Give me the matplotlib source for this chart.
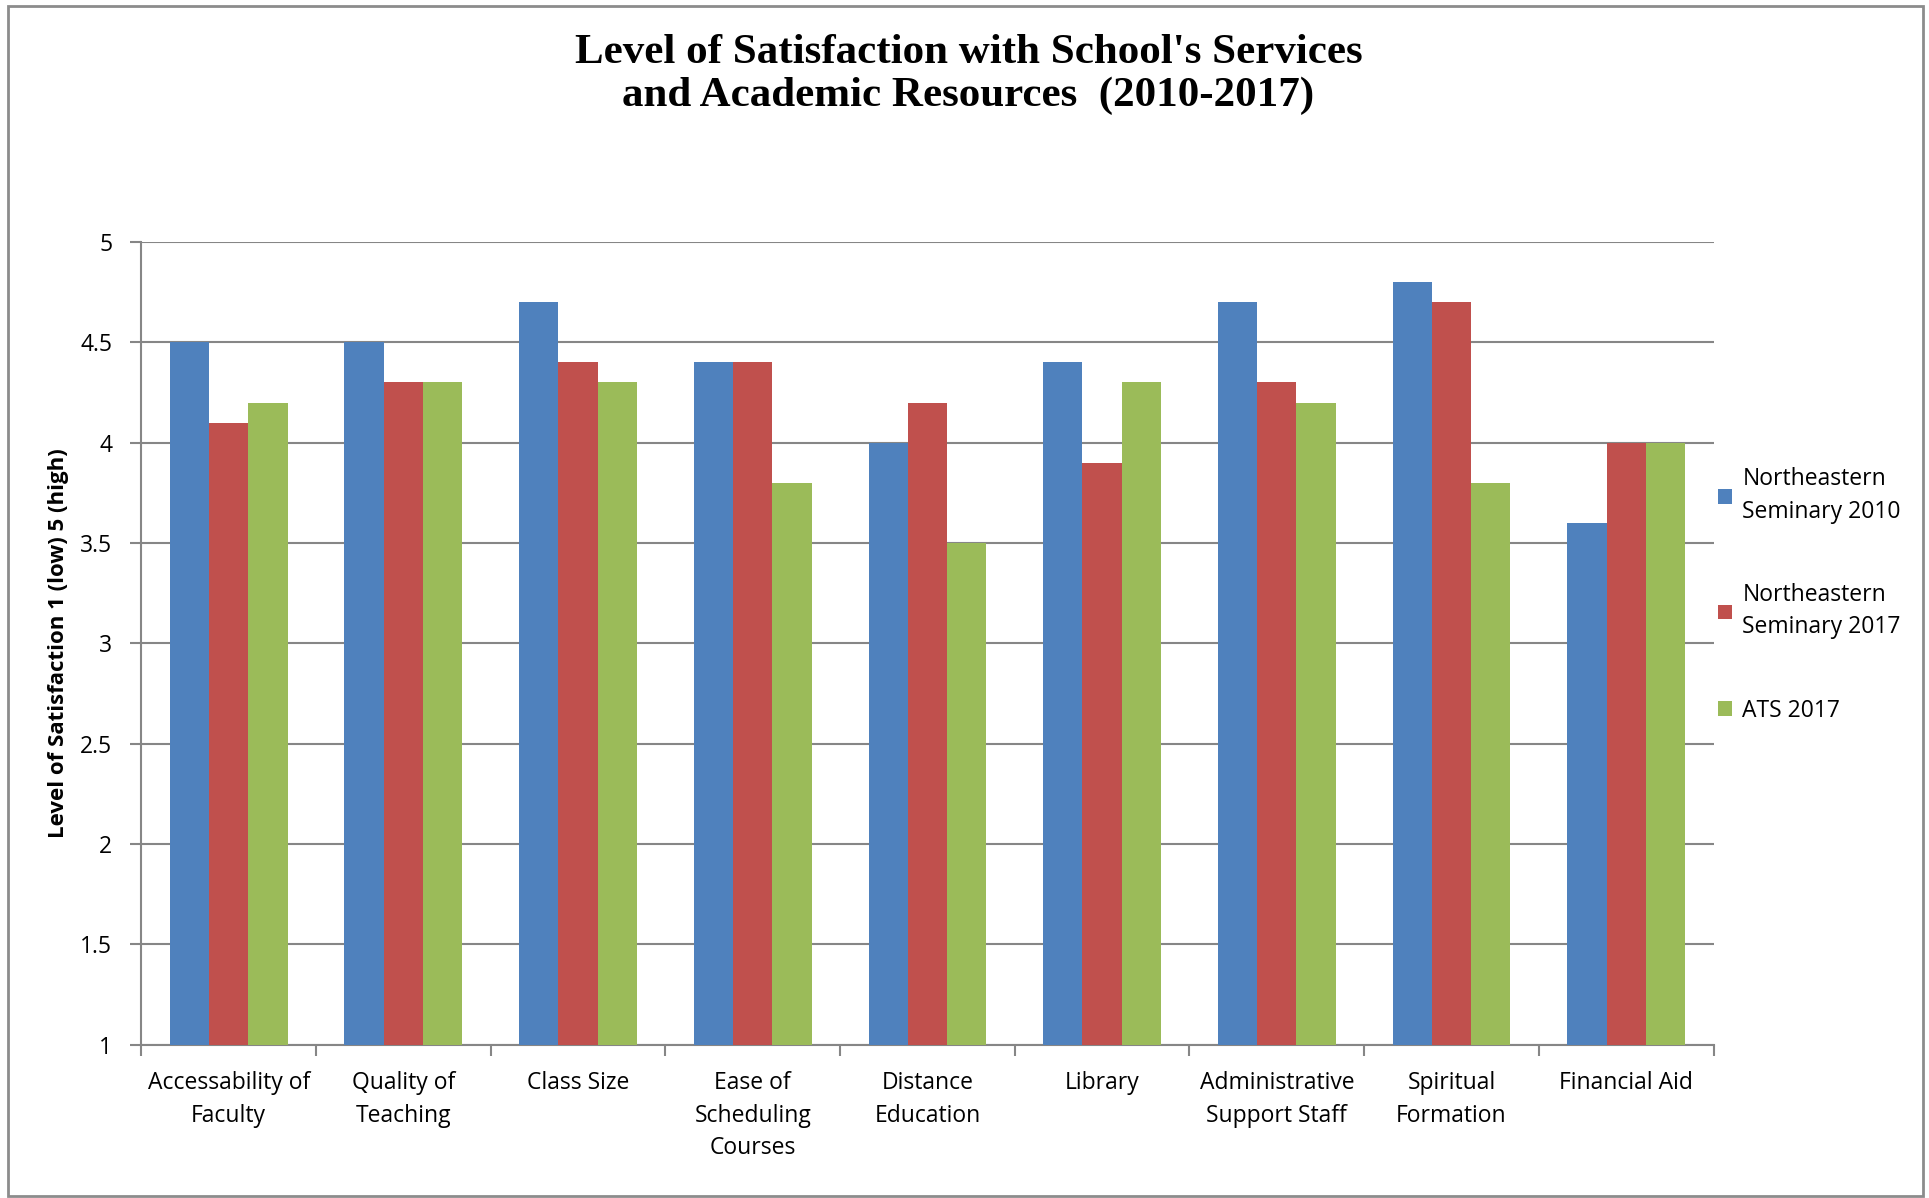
import numpy as np
import matplotlib.pyplot as plt
from matplotlib.patches import Rectangle

plt.rcParams['font.family'] = ['Open Sans', 'DejaVu Sans']

categories = ["Accessability of\nFaculty", "Quality of\nTeaching", "Class Size",
              "Ease of\nScheduling\nCourses", "Distance\nEducation", "Library",
              "Administrative\nSupport Staff", "Spiritual\nFormation", "Financial Aid"]
ns_2010 = [4.5, 4.5, 4.7, 4.4, 4.0, 4.4, 4.7, 4.8, 3.6]
ns_2017 = [4.1, 4.3, 4.4, 4.4, 4.2, 3.9, 4.3, 4.7, 4.0]
ats_2017 = [4.2, 4.3, 4.3, 3.8, 3.5, 4.3, 4.2, 3.8, 4.0]
series_names = ["Northeastern\nSeminary 2010", "Northeastern\nSeminary 2017", "ATS 2017"]
colors = ["#4F81BD", "#C0504D", "#9BBB59"]

fig = plt.figure(figsize=(19.29, 11.98), dpi=100)
ax = fig.add_axes([0.0733, 0.128, 0.815, 0.670])

x = np.arange(len(categories))
w = 0.225
for i, (vals, name, c) in enumerate(zip([ns_2010, ns_2017, ats_2017], series_names, colors)):
    v = np.array(vals)
    ax.bar(x + (i - 1) * w, v - 1, width=w, bottom=1, color=c, label=name, zorder=3)

ax.set_xlim(-0.5, len(categories) - 0.5)
ax.set_ylim(1, 5)
ax.set_yticks(np.arange(1, 5.01, 0.5))
ax.set_yticklabels(["1", "1.5", "2", "2.5", "3", "3.5", "4", "4.5", "5"])
ax.yaxis.grid(True, color="#868686", linewidth=1.5, zorder=0)
ax.set_xticks(np.arange(-0.5, len(categories), 1.0))
ax.set_xticklabels([])
ax.set_xticks(x, minor=True)
ax.set_xticklabels(categories, minor=True, fontsize=16.5, linespacing=1.48)
ax.tick_params(axis='x', which='minor', length=0, pad=19)
ax.tick_params(axis='x', which='major', length=8, color="#868686", width=1.5)
ax.tick_params(axis='y', length=8, color="#868686", width=1.5, labelsize=16.5, pad=13)

for s in ['top', 'right']:
    ax.spines[s].set_visible(False)
for s in ['left', 'bottom']:
    ax.spines[s].set_color("#868686")
    ax.spines[s].set_linewidth(1.5)

ax.set_ylabel("Level of Satisfaction 1 (low) 5 (high)", fontsize=16, fontweight='bold', labelpad=8)

leg = ax.legend(loc='center left', bbox_to_anchor=(0.99, 0.56), frameon=False, fontsize=16.5,
                handlelength=0.6, handleheight=0.6, handletextpad=0.45, labelspacing=2.6)
for t in leg.get_texts():
    t.set_linespacing(1.45)

fig.text(0.502, 0.938, "Level of Satisfaction with School's Services\nand Academic Resources  (2010-2017)",
         ha='center', va='center', fontsize=31, fontweight='bold', family='Liberation Serif',
         linespacing=1.15)

fig.patches.append(Rectangle((0.004, 0.002), 0.993, 0.993, transform=fig.transFigure,
                             fill=False, edgecolor="#8c8c8c", linewidth=2))

plt.savefig("out.png", dpi=100)
